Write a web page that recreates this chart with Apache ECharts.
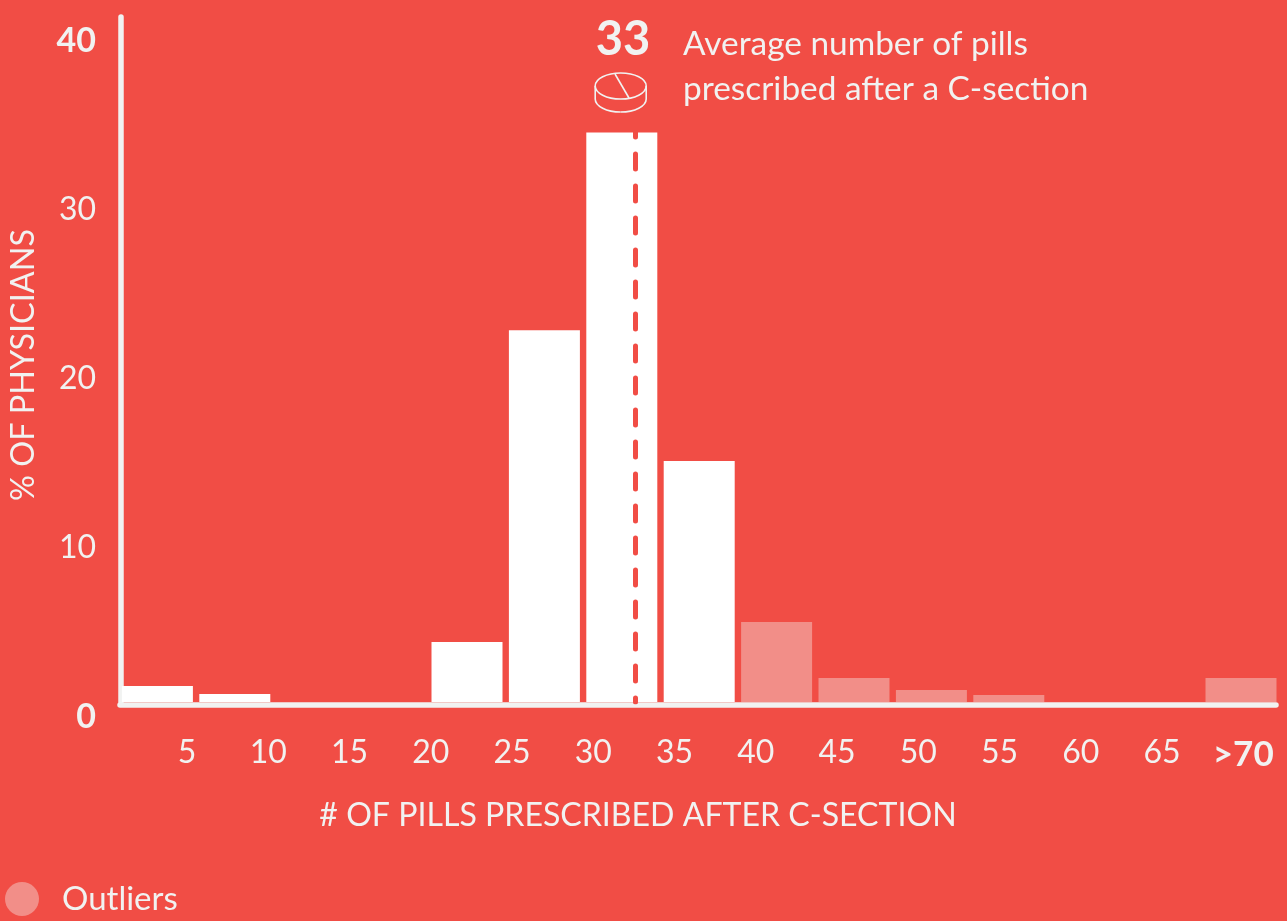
<!DOCTYPE html>
<html><head><meta charset="utf-8">
<style>html,body{margin:0;padding:0;background:#f14d45}#c{width:1287px;height:921px}</style>
<script src="https://cdn.jsdelivr.net/npm/echarts@6/dist/echarts.min.js"></script>
</head><body><div id="c"></div>
<script>
const bins = ['1','2','3','4','5','6','7','8','9','10','11','12','13','14','15'];
const physicians = [0.95,0.47,null,null,3.55,22.0,33.7,14.26,null,null,null,null,null,null,null];
const outliers = [null,null,null,null,null,null,null,null,4.73,1.42,0.71,0.41,null,null,1.42];
const meanPosition = 32.6;
const meanTop = 33.7;
const FG = '#f1f2f1', BG = '#f14d45', OUT = '#f28e88';
const FONT = 'Lato';
const W = 400;
const chart = echarts.init(document.getElementById('c'));
const yLabel = {
  color: FG, fontFamily: FONT, fontSize: 32, fontWeight: W, margin: 25,
  showMaxLabel: false, padding: [30,0,0,0],
  formatter: v => (v === 0 || v === 40) ? '{b|' + v + '}' : String(v),
  rich: { b: { fontFamily: FONT, fontSize: 34, fontWeight: 700, color: FG } }
};
const stroke = { fill: 'none', stroke: FG, lineWidth: 1.6 };
chart.setOption({
  backgroundColor: BG,
  animation: false,
  grid: [
    { left: 118.7, width: 1161, top: 17, height: 685, outerBoundsMode: 'none' },
    { left: 105.75, width: 1170, top: 17, height: 685, outerBoundsMode: 'none' },
    { left: 120, width: 1156, top: 17, height: 685, outerBoundsMode: 'none' }
  ],
  xAxis: [
    { type: 'category', gridIndex: 0, data: bins, axisLine: { show: false },
      axisTick: { show: false }, axisLabel: { show: false } },
    { type: 'value', gridIndex: 1, min: 0, max: 72, interval: 5,
      axisLine: { show: false }, axisTick: { show: false }, splitLine: { show: false },
      axisLabel: { color: FG, fontFamily: FONT, fontSize: 32, fontWeight: W, margin: 35,
        showMaxLabel: false, showMinLabel: false,
        formatter: v => v === 70 ? '{b|>70}' : String(v),
        rich: { b: { fontFamily: FONT, fontSize: 35, fontWeight: 700, color: FG } } } },
    { type: 'category', gridIndex: 2, data: bins, offset: 2.5,
      axisLine: { onZero: false, lineStyle: { color: FG, width: 5.5, cap: 'round' } },
      axisTick: { show: false }, axisLabel: { show: false } }
  ],
  yAxis: [
    { type: 'value', gridIndex: 0, min: 0, max: 40.53, interval: 10, offset: -2.3,
      axisLine: { show: true, onZero: false, lineStyle: { color: FG, width: 5.5, cap: 'round' } },
      axisTick: { show: false }, splitLine: { show: false }, axisLabel: yLabel,
      name: '% OF PHYSICIANS', nameLocation: 'middle', nameGap: 81, nameMoveOverlap: false,
      nameTextStyle: { color: FG, fontFamily: FONT, fontSize: 32.4, fontWeight: W, padding: [0,11,0,0] } },
    { type: 'value', gridIndex: 1, min: 0, max: 40.53, show: false },
    { type: 'value', gridIndex: 2, min: 0, max: 40.53, show: false }
  ],
  legend: {
    data: ['Outliers'], left: 5, top: 882, padding: 0, icon: 'circle', itemWidth: 34, itemHeight: 34,
    textStyle: { color: FG, fontFamily: FONT, fontSize: 33, fontWeight: W, padding: [0,0,0,18] }
  },
  title: [
    { text: '# OF PILLS PRESCRIBED AFTER C-SECTION', left: 638, top: 800, padding: 0, textAlign: 'center',
      textStyle: { color: FG, fontFamily: FONT, fontSize: 32.1, fontWeight: W } },
    { text: '33', left: 623, top: 16, padding: 0, textAlign: 'center',
      textStyle: { color: FG, fontFamily: FONT, fontSize: 47, fontWeight: 700 } },
    { text: 'Average number of pills', left: 683, top: 28, padding: 0,
      textStyle: { color: FG, fontFamily: FONT, fontSize: 33.4, fontWeight: W } },
    { text: 'prescribed after a C-section', left: 683, top: 73, padding: 0,
      textStyle: { color: FG, fontFamily: FONT, fontSize: 33.4, fontWeight: W } }
  ],
  graphic: [
    { type: 'ellipse', shape: { cx: 620.7, cy: 86, rx: 25.5, ry: 13 }, style: stroke },
    { type: 'line', shape: { x1: 595.2, y1: 86, x2: 595.2, y2: 99 }, style: stroke },
    { type: 'line', shape: { x1: 646.2, y1: 86, x2: 646.2, y2: 99 }, style: stroke },
    { type: 'bezierCurve', shape: { x1: 595.2, y1: 99, cpx1: 595.2, cpy1: 106.2, cpx2: 606.6, cpy2: 112, x2: 620.7, y2: 112 }, style: stroke },
    { type: 'bezierCurve', shape: { x1: 620.7, y1: 112, cpx1: 634.8, cpy1: 112, cpx2: 646.2, cpy2: 106.2, x2: 646.2, y2: 99 }, style: stroke },
    { type: 'line', shape: { x1: 615, y1: 74, x2: 629, y2: 98 }, style: stroke }
  ],
  series: [
    { name: 'Physicians', type: 'bar', stack: 'a', xAxisIndex: 0, yAxisIndex: 0, data: physicians, barWidth: 71,
      itemStyle: { color: '#fff' } },
    { name: 'Outliers', type: 'bar', stack: 'a', xAxisIndex: 0, yAxisIndex: 0, data: outliers, barWidth: 71,
      itemStyle: { color: OUT } },
    { name: 'Average', type: 'line', xAxisIndex: 1, yAxisIndex: 1, z: 5, symbol: 'none',
      data: [[meanPosition, meanTop],[meanPosition, 0]],
      lineStyle: { color: BG, width: 5, type: [15,17], cap: 'round', dashOffset: 10.5 } }
  ]
});
</script></body></html>
